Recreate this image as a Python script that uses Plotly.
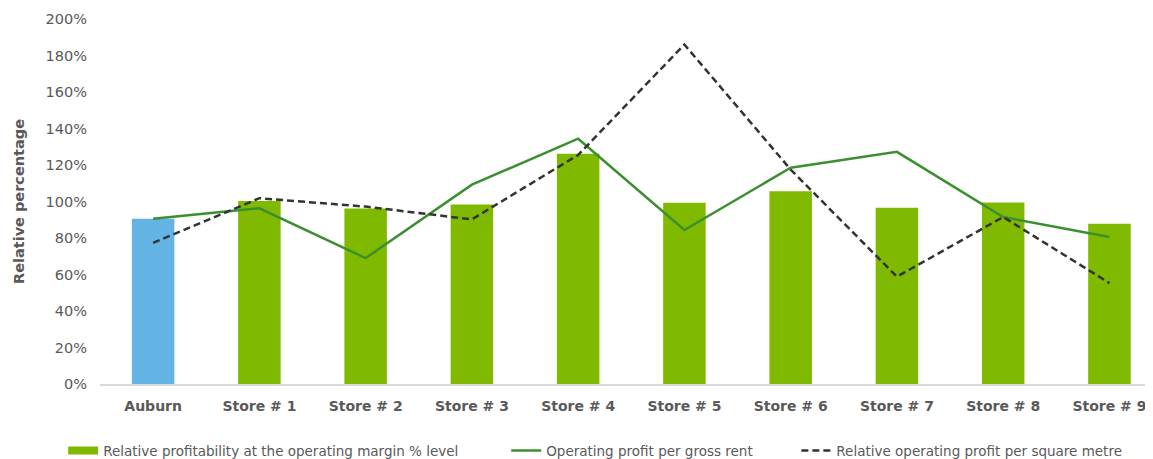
import plotly.graph_objects as go

categories = ["Auburn", "Store # 1", "Store # 2", "Store # 3", "Store # 4",
              "Store # 5", "Store # 6", "Store # 7", "Store # 8", "Store # 9"]
margin_level = [90.5, 100.3, 96.2, 98.4, 126.2, 99.3, 105.6, 96.6, 99.5, 87.8]
profit_per_rent = [90.6, 96.3, 69.0, 109.2, 134.4, 84.4, 118.5, 127.2, 91.5, 80.6]
profit_per_sqm = [77.3, 101.8, 97.2, 90.2, 125.5, 186.0, 117.5, 58.8, 91.5, 55.3]
series_names = ["Relative profitability at the operating margin % level",
                "Operating profit per gross rent",
                "Relative operating profit per square metre"]

bar_green = "#80BA00"
blue = "#63B4E4"
line_green = "#3C8F30"
dash_col = "#333333"
font_fam = "DejaVu Sans, Verdana, sans-serif"
pad1 = "\u00a0" * 10
pad2 = "\u00a0" * 9

fig = go.Figure()
fig.add_trace(go.Bar(
    x=categories[:1], y=margin_level[:1], marker=dict(color=blue, line=dict(width=0)),
    width=0.4, showlegend=False, hoverinfo="skip"))
fig.add_trace(go.Bar(
    x=categories[1:], y=margin_level[1:], marker=dict(color=bar_green, line=dict(width=0)),
    width=0.4, showlegend=False, name=series_names[0]))
fig.add_trace(go.Scatter(
    x=[None], y=[None], mode="lines", line=dict(color=bar_green, width=8),
    name=series_names[0] + pad1))
fig.add_trace(go.Scatter(
    x=categories, y=profit_per_rent, mode="lines",
    line=dict(color=line_green, width=2.5),
    name=series_names[1] + pad2))
fig.add_trace(go.Scatter(
    x=categories, y=profit_per_sqm, mode="lines",
    line=dict(color=dash_col, width=2.5, dash="7px,4px"),
    name=series_names[2]))

fig.update_layout(
    width=1145, height=451,
    margin=dict(l=92, r=0, t=11, b=75, autoexpand=False),
    paper_bgcolor="white", plot_bgcolor="white",
    barmode="overlay",
    font=dict(family=font_fam, color="#595959", size=13),
    legend=dict(orientation="h", x=-0.035, xanchor="left", y=-0.14, yanchor="top",
                xref="paper", yref="paper",
                font=dict(size=13.5, color="#595959"), itemwidth=30,
                traceorder="normal"),
    xaxis=dict(
        type="category", range=[-0.5, 9.41], showgrid=False, automargin=False,
        showline=True, linecolor="#D9D9D9", linewidth=2,
        ticks="", tickfont=dict(size=14, color="#595959", family=font_fam, weight="bold"),
        ticklabelstandoff=8),
    yaxis=dict(
        range=[0, 200], dtick=20, ticksuffix="%", showgrid=False, automargin=False,
        zeroline=False, showline=False, ticks="", ticklabelstandoff=12,
        tickfont=dict(size=14.5, color="#595959"),
        title=dict(text="<b>Relative percentage</b>", font=dict(size=14.5, color="#595959"),
                   standoff=17)),
)

fig.write_html("out.html")
